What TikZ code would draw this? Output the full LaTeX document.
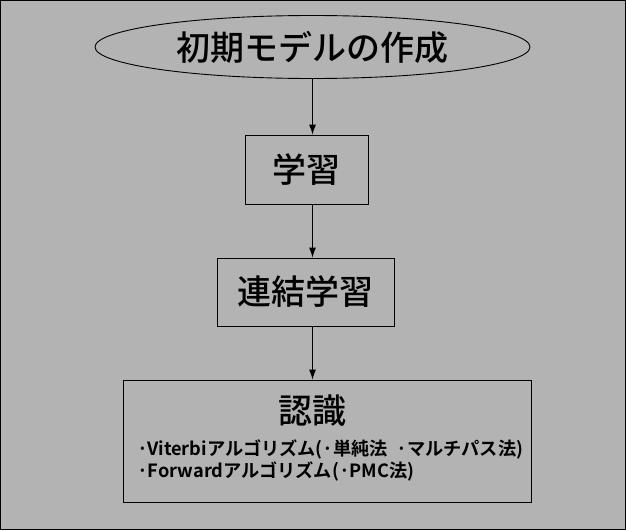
\documentclass[tikz,border=0pt]{standalone}
\usepackage{fontspec}
\setmainfont{Noto Sans CJK JP}[BoldFont={Noto Sans CJK JP Bold}]
\newfontfamily\medfont{Noto Sans CJK JP Medium}
\usepackage{tikz}
\usetikzlibrary{positioning,shapes.geometric,arrows.meta}
\definecolor{bggray}{RGB}{179,179,179}

\begin{document}
\begin{tikzpicture}[x=1pt,y=-1pt,
		box/.style={shape=rectangle,draw,line width=0.9pt,inner sep=0pt},
		big/.style={font=\medfont\fontsize{34}{40}\selectfont},
		small/.style={font=\fontsize{18.2}{21}\selectfont\bfseries,inner sep=0pt},
		arr/.style={-{Latex[length=10pt,width=7pt]},line width=0.9pt}]
		\useasboundingbox (0,0) rectangle (626,530);
		\draw[fill=bggray,line width=1pt] (0.5,0.5) rectangle (625.5,529.5);
		\begin{scope}
			\node(init) [shape=ellipse,draw,line width=0.9pt,inner sep=0pt,minimum width=435,minimum height=63,big] at (312.5,47) {初期モデルの作成};
			\node(learn) [box,minimum width=123,minimum height=69,big] at (306.5,169.5) {学習};
			\node(concat) [box,minimum width=177,minimum height=68,big] at (305.5,292) {連結学習};
			\node(recog) [box,minimum width=408,minimum height=122] at (327,441) {};
			\node(title) [big] at (312.5,411) {認識};
			\node(viterbi) [small,anchor=west] at (137,449) {·Viterbiアルゴリズム(·単純法\ \ ·マルチパス法)};
			\node(forward) [small,anchor=west] at (137,471) {·Forwardアルゴリズム(·PMC法)};
			\draw[arr] (init.south) -- (init.south |- learn.north);
			\draw[arr] (learn.south -| init.south) -- (concat.north -| init.south);
			\draw[arr] (concat.south -| init.south) -- (recog.north -| init.south);
		\end{scope}
	\end{tikzpicture}
\end{document}
